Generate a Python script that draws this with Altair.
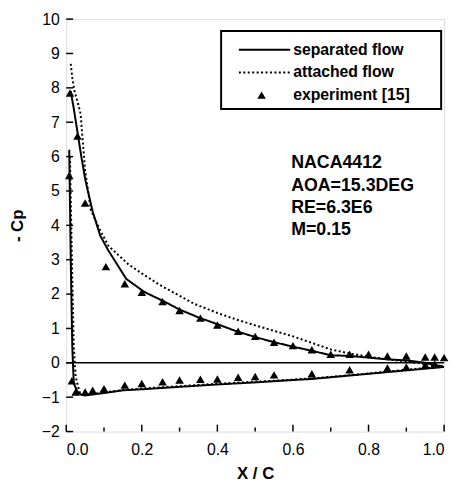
import altair as alt
import pandas as pd

# ---- data ----
# separated flow (solid), upper surface
sep_up_x = [0.012, 0.02, 0.03, 0.04, 0.051, 0.07, 0.09, 0.112, 0.159, 0.207, 0.26, 0.3, 0.35, 0.406,
            0.45, 0.5, 0.55, 0.6, 0.65, 0.7, 0.75, 0.8, 0.85, 0.9, 0.95, 1.0]
sep_up_y = [7.9, 7.4, 6.7, 6.0, 5.3, 4.4, 3.7, 3.26, 2.44, 2.06, 1.78, 1.55, 1.32, 1.1, 0.92,
            0.75, 0.6, 0.47, 0.35, 0.22, 0.2, 0.15, 0.1, 0.07, 0.0, -0.12]
# separated flow (solid), lower surface
sep_lo_x = [0.008, 0.012, 0.016, 0.02, 0.03, 0.04, 0.05, 0.07, 0.1, 0.15, 0.2, 0.3, 0.4, 0.5,
            0.6, 0.65, 0.7, 0.75, 0.8, 0.85, 0.9, 0.95, 1.0]
sep_lo_y = [6.2, 3.0, 0.5, -0.6, -0.85, -0.93, -0.95, -0.92, -0.88, -0.8, -0.77, -0.7, -0.63, -0.57,
            -0.5, -0.47, -0.42, -0.37, -0.32, -0.27, -0.22, -0.17, -0.12]
# attached flow (dotted), upper surface
att_up_x = [0.012, 0.016, 0.022, 0.03, 0.038, 0.05, 0.065, 0.09, 0.112, 0.164, 0.2, 0.25, 0.3,
            0.338, 0.4, 0.45, 0.5, 0.55, 0.6, 0.65, 0.7, 0.75, 0.8, 0.85, 0.9, 0.95, 1.0]
att_up_y = [8.7, 8.3, 7.9, 7.6, 7.25, 5.6, 4.45, 3.85, 3.4, 2.87, 2.6, 2.25, 1.95,
            1.72, 1.45, 1.26, 1.09, 0.93, 0.77, 0.58, 0.39, 0.27, 0.18, 0.1, 0.04, -0.04, -0.1]
# attached flow (dotted), lower surface
att_lo_x = [0.01, 0.015, 0.02, 0.025, 0.035, 0.05, 0.07, 0.1, 0.15, 0.2, 0.3, 0.4, 0.5, 0.6, 0.7,
            0.8, 0.9, 1.0]
att_lo_y = [6.0, 3.0, 0.5, -0.4, -0.85, -0.93, -0.9, -0.86, -0.79, -0.75, -0.68, -0.61, -0.55,
            -0.49, -0.41, -0.31, -0.2, -0.1]
# experiment [15]
exp_x = [0.01, 0.03, 0.05, 0.105, 0.155, 0.2, 0.255, 0.3, 0.355, 0.4, 0.455, 0.5, 0.55, 0.6, 0.65,
         0.7, 0.75, 0.8, 0.85, 0.9, 0.95, 0.975, 1.0,
         0.008, 0.015, 0.025, 0.05, 0.07, 0.1, 0.155, 0.2, 0.255, 0.3, 0.355, 0.4, 0.455, 0.5,
         0.55, 0.65, 0.75, 0.85, 0.9, 0.95, 0.975]
exp_y = [7.85, 6.6, 4.65, 2.8, 2.3, 2.05, 1.78, 1.52, 1.3, 1.1, 0.92, 0.77, 0.6, 0.5, 0.38,
         0.25, 0.25, 0.25, 0.2, 0.2, 0.17, 0.17, 0.15,
         5.45, -0.52, -0.85, -0.85, -0.8, -0.75, -0.65, -0.6, -0.55, -0.5, -0.48, -0.47, -0.42, -0.4,
         -0.35, -0.32, -0.2, -0.15, -0.12, -0.07, -0.03]

x_major = [0.0, 0.2, 0.4, 0.6, 0.8, 1.0]
x_minor = [0.1, 0.3, 0.5, 0.7, 0.9]
y_major = list(range(-2, 11))

legend_labels = ["separated flow", "attached flow", "experiment [15]"]
notes = ["NACA4412", "AOA=15.3DEG", "RE=6.3E6", "M=0.15"]

W, H = 383, 418
FONT = "Liberation Sans"

rows = []
for name, seg, xs_, ys_ in [("separated flow", "sep_up", sep_up_x, sep_up_y),
                            ("separated flow", "sep_lo", sep_lo_x, sep_lo_y),
                            ("attached flow", "att_up", att_up_x, att_up_y),
                            ("attached flow", "att_lo", att_lo_x, att_lo_y)]:
    for i, (a, b) in enumerate(zip(xs_, ys_)):
        rows.append({"series": name, "seg": seg, "x": a, "y": b, "i": i})
lines_df = pd.DataFrame(rows)
exp_df = pd.DataFrame({"x": exp_x, "y": exp_y})

xs = alt.Scale(domain=[0, 1], nice=False, zero=False)
ys = alt.Scale(domain=[-2, 10], nice=False, zero=False)

x_axis = alt.Axis(values=x_major, format=".1f", ticks=False, domain=False, grid=False,
                  labelFont=FONT, labelFontSize=16, labelColor="black", labelPadding=10,
                  title="X / C", titleFont=FONT, titleFontSize=17, titleFontWeight="bold",
                  titleColor="black", titlePadding=9)
y_axis = alt.Axis(values=y_major, format="d", ticks=False, domain=False, grid=False,
                  labelFont=FONT, labelFontSize=16, labelColor="black", labelPadding=7,
                  title="- Cp", titleFont=FONT, titleFontSize=17, titleFontWeight="bold",
                  titleColor="black", titleX=-49, titleY=209, titleAlign="center",
                  titleBaseline="middle")


def X(field):
    return alt.X(field, scale=xs, axis=x_axis)


def Y(field):
    return alt.Y(field, scale=ys, axis=y_axis)


lines = alt.Chart(lines_df).mark_line(color="black", strokeWidth=2, clip=True).encode(
    x=X("x:Q"),
    y=Y("y:Q"),
    detail="seg:N",
    order="i:Q",
    strokeDash=alt.StrokeDash("series:N",
                              scale=alt.Scale(domain=["separated flow", "attached flow"],
                                              range=[[1, 0], [2, 2.5]]),
                              legend=None),
)

pts = alt.Chart(exp_df).mark_point(shape="triangle-up", filled=True, color="black",
                                   size=75, opacity=1).encode(x=X("x:Q"), y=Y("y:Q"))

zero = alt.Chart(pd.DataFrame({"y": [0]})).mark_rule(color="black", strokeWidth=1.5).encode(
    y=Y("y:Q"), x=alt.value(0), x2=alt.value(W))

xt_major = alt.Chart(pd.DataFrame({"x": x_major})).mark_rule(color="black", strokeWidth=1.5).encode(
    x=X("x:Q"), y=alt.value(H), y2=alt.value(H - 7))
xt_minor = alt.Chart(pd.DataFrame({"x": x_minor})).mark_rule(color="black", strokeWidth=1.5).encode(
    x=X("x:Q"), y=alt.value(H), y2=alt.value(H - 4))
yt_major = alt.Chart(pd.DataFrame({"y": y_major})).mark_rule(color="black", strokeWidth=1.5).encode(
    y=Y("y:Q"), x=alt.value(0), x2=alt.value(7))

one = pd.DataFrame({"a": [0]})
leg_box = alt.Chart(one).mark_rect(fill="white", stroke="black", strokeWidth=2).encode(
    x=alt.value(157), x2=alt.value(380), y=alt.value(12), y2=alt.value(91))
leg_solid = alt.Chart(one).mark_rule(color="black", strokeWidth=2).encode(
    x=alt.value(175), x2=alt.value(227), y=alt.value(31))
leg_dot = alt.Chart(one).mark_rule(color="black", strokeWidth=2, strokeDash=[2, 2.5]).encode(
    x=alt.value(175), x2=alt.value(227), y=alt.value(54))
leg_tri = alt.Chart(one).mark_point(shape="triangle-up", filled=True, color="black",
                                    size=75, opacity=1).encode(
    x=alt.value(198), y=alt.value(77))

text_layers = []
for k, lab in enumerate(legend_labels):
    text_layers.append(alt.Chart(one).mark_text(
        align="left", baseline="middle", font=FONT, fontSize=16, fontWeight="bold",
        color="black", text=lab).encode(x=alt.value(230), y=alt.value(31 + 23 * k)))
for k, lab in enumerate(notes):
    text_layers.append(alt.Chart(one).mark_text(
        align="left", baseline="middle", font=FONT, fontSize=18, fontWeight="bold",
        color="black", text=lab).encode(x=alt.value(228), y=alt.value(146 + 22.7 * k)))

chart = alt.layer(
    zero, lines, pts, xt_major, xt_minor, yt_major,
    leg_box, leg_solid, leg_dot, leg_tri, *text_layers,
).properties(
    width=W, height=H,
    autosize=alt.AutoSizeParams(type="none"),
    padding={"left": 59, "top": 8, "right": 8, "bottom": 58},
).configure_view(stroke="black", strokeWidth=2).configure(background="white")

chart.save("out.html", embed_options={"renderer": "svg", "actions": False})
